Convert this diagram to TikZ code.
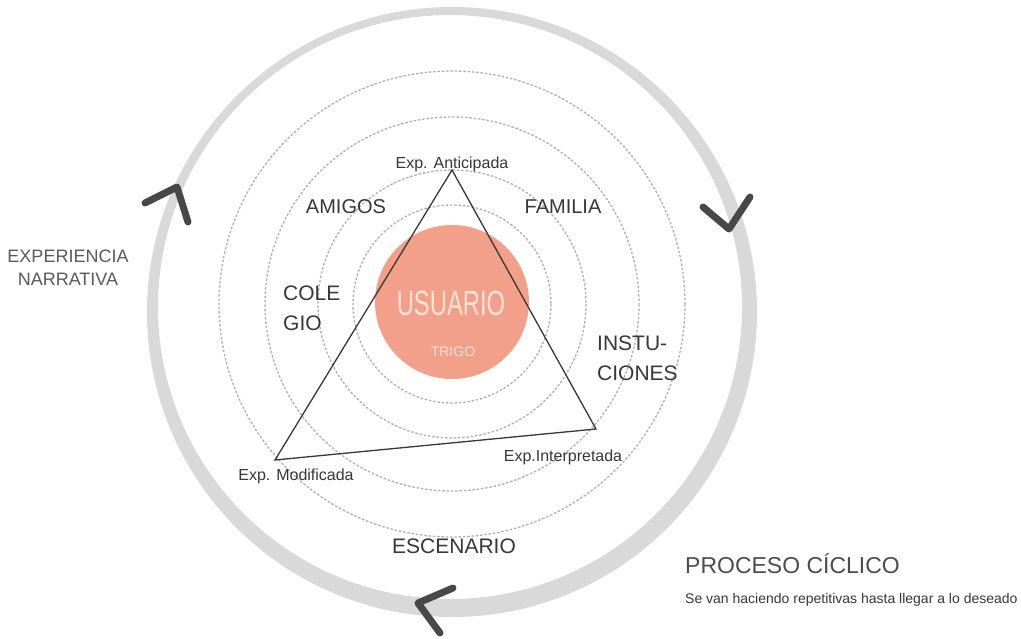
\documentclass[tikz,border=0pt]{standalone}
\usepackage{fontspec}
\setmainfont{Liberation Sans}
\newfontfamily\condfont{Liberation Sans}[FakeStretch=0.68]

\definecolor{ringgray}{RGB}{217,217,217}
\definecolor{orbitgray}{RGB}{175,175,175}
\definecolor{chevgray}{RGB}{72,72,72}
\definecolor{labelgray}{RGB}{55,55,55}
\definecolor{salmon}{RGB}{243,160,138}
\definecolor{paleink}{RGB}{250,228,218}

\tikzstyle{ring} = [fill=ringgray, even odd rule]
\tikzstyle{orbit} = [draw=orbitgray, line width=1.3pt, dash pattern=on 2.5pt off 1.8pt]
\tikzstyle{chevron} = [draw=chevgray, line width=7pt, line cap=round, line join=round]
\tikzstyle{edge} = [draw=labelgray, line width=1.3pt, line join=miter]
\tikzstyle{lbl} = [text=labelgray, inner sep=0pt, anchor=base, font=\fontsize{20}{24}\selectfont]
\tikzstyle{exp} = [text=labelgray, inner sep=0pt, anchor=base, font=\fontsize{16}{19}\selectfont]

\begin{document}
\begin{tikzpicture}[x=1pt, y=-1pt]
\useasboundingbox (0,0) rectangle (1021,638);

% cycle ring and arrows
\fill [ring] (452,312) circle (305) (450,307) circle (292);
\draw [chevron] (145,203) -- (177,187) -- (188,222);
\draw [chevron] (703,207) -- (729,229) -- (750,197);
\draw [chevron] (453,588) -- (418,603) -- (440,633);

% scenarios
\foreach \r in {99,134,187,233}
  \draw [orbit] (452,304) circle (\r);

% user
\node (user) [circle, fill=salmon, minimum size=154pt, inner sep=0pt] at (452,302) {};
\node (usuario) [lbl, text=paleink, font=\condfont\fontsize{35}{40}\selectfont] at (451,315) {USUARIO};
\node (trigo) [lbl, text=paleink, font=\fontsize{14}{16}\selectfont] at (453,356) {TRIGO};

% triangle
\coordinate (cant) at (452,170);
\coordinate (cmod) at (275,460);
\coordinate (cint) at (596,429);
\draw [edge] (cant) -- (cint) -- (cmod) -- cycle;

\node (ant) [exp] at (452,168) {Exp. Anticipada};
\node (mod) [exp] at (296,480) {Exp. Modificada};
\node (int) [exp] at (563,461) {Exp.Interpretada};

% labels
\node (amigos) [lbl] at (346,213) {AMIGOS};
\node (familia) [lbl] at (563,213) {FAMILIA};
\node (cole) [lbl, anchor=base west, font=\fontsize{21}{24}\selectfont] at (283,300) {COLE};
\node (gio) [lbl, anchor=base west, font=\fontsize{21}{24}\selectfont] at ([yshift=-30pt]cole.base west) {GIO};
\node (instu) [lbl, anchor=base west, font=\fontsize{21}{24}\selectfont] at (597,350) {INSTU-};
\node (ciones) [lbl, anchor=base west, font=\fontsize{21}{24}\selectfont] at ([yshift=-30pt]instu.base west) {CIONES};
\node (escenario) [lbl, font=\fontsize{21}{24}\selectfont] at (454,553) {ESCENARIO};

\node (exper) [lbl, text=black!65, font=\fontsize{18}{22}\selectfont] at (68,262) {EXPERIENCIA};
\node (narr) [lbl, text=black!65, font=\fontsize{18}{22}\selectfont] at ([yshift=-23pt]exper.base) {NARRATIVA};

\node (proceso) [lbl, anchor=base west, text=black!70, font=\fontsize{23}{26}\selectfont] at (685,573) {PROCESO CÍCLICO};
\node (desc) [lbl, anchor=base west, font=\fontsize{14}{16}\selectfont] at ([yshift=-30pt]proceso.base west) {Se van haciendo repetitivas hasta llegar a lo deseado};
\end{tikzpicture}
\end{document}
